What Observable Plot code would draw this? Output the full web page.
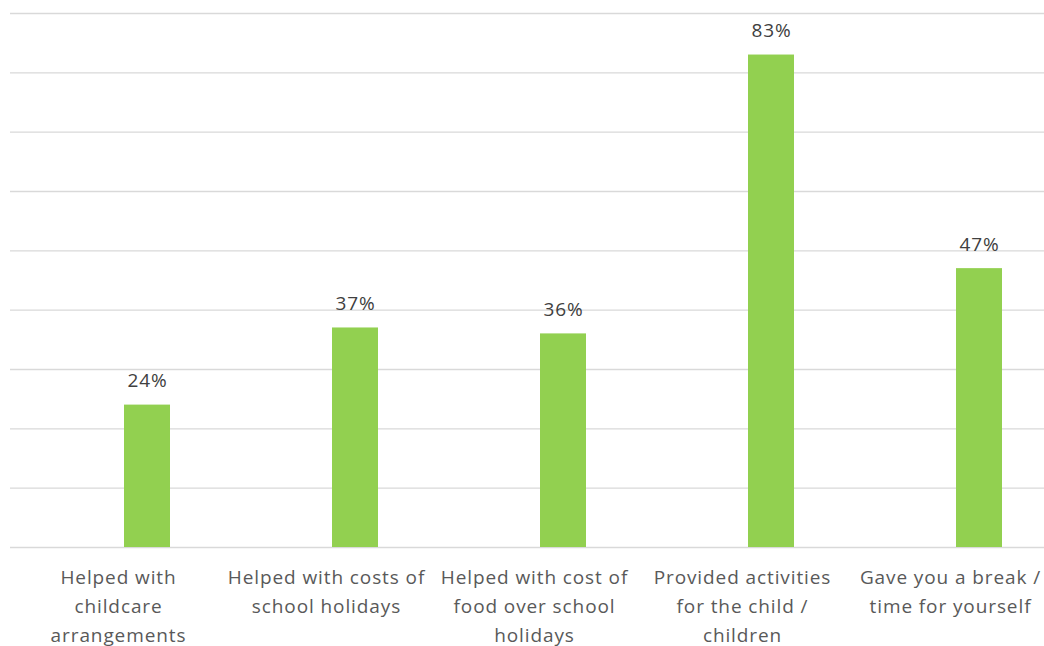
<!DOCTYPE html>
<html>
<head>
<meta charset="utf-8">
<script src="https://cdn.jsdelivr.net/npm/d3@7"></script>
<script src="https://cdn.jsdelivr.net/npm/@observablehq/plot@0.6"></script>
<style>
  html, body { margin: 0; padding: 0; background: #fff; }
  #chart { width: 1044px; height: 646px; overflow: hidden; }
  svg { overflow: visible; }
</style>
</head>
<body>
<div id="chart"></div>
<script>
const categories = [
  "Helped with childcare arrangements",
  "Helped with costs of school holidays",
  "Helped with cost of food over school holidays",
  "Provided activities for the child / children",
  "Gave you a break / time for yourself"
];
const tickLabels = [
  "Helped with\nchildcare\narrangements",
  "Helped with costs of\nschool holidays",
  "Helped with cost of\nfood over school\nholidays",
  "Provided activities\nfor the child /\nchildren",
  "Gave you a break /\ntime for yourself"
];
const values = [0.24, 0.37, 0.36, 0.83, 0.47];
const valueLabels = ["24%", "37%", "36%", "83%", "47%"];
const gridTicks = [0, 0.1, 0.2, 0.3, 0.4, 0.5, 0.6, 0.7, 0.8, 0.9];

const data = categories.map((c, i) => ({cat: c, value: values[i], label: valueLabels[i], tick: tickLabels[i]}));
const labelOf = new Map(data.map(d => [d.cat, d.tick]));

const chart = Plot.plot({
  width: 1044,
  height: 646,
  marginTop: 13,
  marginBottom: 99,
  marginLeft: 10,
  marginRight: 0,
  style: {fontFamily: "'Open Sans', sans-serif", background: "#fff", letterSpacing: "0.9px"},
  x: {domain: categories, range: [41.7, 1084.7], paddingInner: 0.78, paddingOuter: 0.39},
  y: {domain: [0, 0.9]},
  marks: [
    Plot.gridY(gridTicks, {stroke: "#d9d9d9", strokeOpacity: 1, strokeWidth: 1.3}),
    Plot.barY(data, {x: "cat", y: "value", fill: "#92d050"}),
    Plot.text(data, {x: "cat", y: "value", text: "label", dy: -24, fontSize: 19, fill: "#404040"}),
    Plot.axisX({tickSize: 0, tickPadding: 16, dx: -29, fontSize: 19, lineHeight: 1.53, fill: "#595959", tickFormat: d => labelOf.get(d), label: null}),
    Plot.axisY({ticks: [], label: null})
  ]
});
document.getElementById("chart").appendChild(chart);
</script>
</body>
</html>
